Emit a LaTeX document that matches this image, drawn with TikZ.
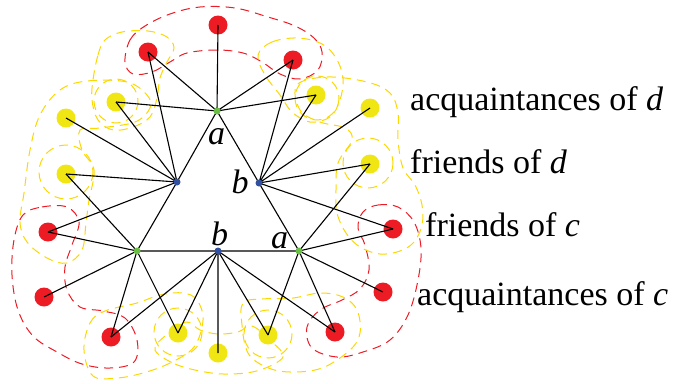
\documentclass[tikz,border=0pt]{standalone}
\usepackage{fontspec}
\setmainfont{Liberation Serif}
\definecolor{dotred}{RGB}{237,28,36}
\definecolor{dotyellow}{RGB}{240,230,20}
\definecolor{dashyellow}{RGB}{252,216,0}
\definecolor{vgreen}{RGB}{106,189,69}
\definecolor{vblue}{RGB}{50,80,160}
\tikzset{
  reddot/.style={circle,fill=dotred,inner sep=0pt,minimum size=19pt},
  yellowdot/.style={circle,fill=dotyellow,inner sep=0pt,minimum size=19pt},
  greendot/.style={circle,fill=vgreen,inner sep=0pt,minimum size=7pt},
  bluedot/.style={circle,fill=vblue,inner sep=0pt,minimum size=7pt},
  edge/.style={black,line width=1.1pt},
  reddash/.style={dotred,line width=1pt,dash pattern=on 9pt off 6pt},
  yellowdash/.style={dashyellow,line width=1pt,dash pattern=on 9pt off 6pt},
  lbl/.style={inner sep=0pt,font=\fontsize{34}{40}\selectfont},
  legend/.style={inner sep=0pt,font=\fontsize{34}{40}\selectfont}
}
\begin{document}
\begin{tikzpicture}[x=1pt,y=1pt,yscale=-1]
\useasboundingbox (0,0) rectangle (674,383);
% red regions
\draw[reddash] plot[smooth cycle,tension=0.6] coordinates {(125,62) (130,40) (145,26) (170,14) (200,7) (235,8) (268,17) (295,26) (314,38) (322,52) (318,70) (300,79) (280,74) (262,62) (243,53) (217,50) (187,53) (170,62) (152,72) (133,74)};
\draw[reddash] plot[smooth cycle,tension=0.6] coordinates {(23,215) (42,207) (67,207) (79,222) (72,245) (65,267) (67,290) (80,307) (103,311) (125,318) (137,340) (134,362) (110,368) (82,364) (57,352) (33,336) (18,310) (12,275) (14,240)};
\draw[reddash] plot[smooth cycle,tension=0.6] coordinates {(363,212) (378,205) (398,207) (414,222) (421,248) (418,280) (408,315) (390,340) (363,352) (337,357) (312,348) (307,327) (320,310) (342,300) (360,289) (369,270) (365,245) (358,228)};
% yellow regions
\draw[yellowdash] plot[smooth cycle,tension=0.6] coordinates {(147,95) (127,82) (87,81) (60,90) (40,115) (30,150) (24,193) (20,222) (27,242) (47,258) (67,263) (82,250) (86,223) (89,200) (94,170) (82,150) (80,130) (100,128) (135,122) (150,108)};
\draw[yellowdash] plot[smooth cycle,tension=0.6] coordinates {(297,85) (327,77) (367,82) (390,93) (398,113) (398,140) (403,168) (415,185) (422,205) (422,225) (414,242) (400,251) (380,254) (360,247) (346,233) (337,213) (336,190) (338,163) (352,140) (345,128) (320,122) (300,110)};
\draw[yellowdash] plot[smooth cycle,tension=0.6] coordinates {(93,80) (98,55) (105,40) (122,32) (148,31) (167,37) (174,48) (167,62) (160,78) (157,98) (150,117) (133,127) (113,130) (98,120) (92,100)};
\draw[yellowdash] plot[smooth cycle,tension=0.6] coordinates {(258,55) (272,42) (298,38) (322,44) (336,58) (343,78) (340,100) (330,117) (310,122) (292,112) (280,95) (265,75)};
\draw[yellowdash] plot[smooth cycle,tension=0.6] coordinates {(84,350) (90,323) (105,311) (137,303) (160,295) (183,293) (197,300) (203,320) (194,347) (170,363) (143,373) (117,378) (93,376)};
\draw[yellowdash] plot[smooth cycle,tension=0.6] coordinates {(243,303) (262,299) (293,298) (320,293) (343,297) (357,310) (360,333) (350,350) (322,368) (290,372) (266,367) (248,353) (242,325)};
\draw[yellowdash] plot[smooth cycle,tension=0.6] coordinates {(155,350) (175,364) (205,372) (232,374) (260,370) (283,357) (272,342) (252,326) (238,332) (218,334) (200,330) (186,322) (165,336)};
\draw[yellowdash] (116,101) circle (22);
\draw[yellowdash] (317,98) circle (22);
\draw[yellowdash] (66,172) circle (27);
\draw[yellowdash] (368,163) circle (25);
\draw[yellowdash] (178,332) circle (24);
\draw[yellowdash] (268,334) circle (24);
% outer dots
\node[reddot] (r1) at (218,25) {};
\node[reddot] (r2) at (148,52) {};
\node[reddot] (r3) at (293,60) {};
\node[yellowdot] (y1) at (116,102) {};
\node[yellowdot] (y2) at (316,95) {};
\node[yellowdot] (y3) at (66,118) {};
\node[yellowdot] (y4) at (370,108) {};
\node[yellowdot] (y5) at (66,174) {};
\node[yellowdot] (y6) at (370,164) {};
\node[reddot] (r4) at (48,232) {};
\node[reddot] (r5) at (393,229) {};
\node[reddot] (r6) at (44,297) {};
\node[reddot] (r7) at (383,292) {};
\node[reddot] (r8) at (111,337) {};
\node[reddot] (r9) at (335,332) {};
\node[yellowdot] (y7) at (178,333) {};
\node[yellowdot] (y8) at (268,335) {};
\node[yellowdot] (y9) at (218,353) {};
% inner vertices
\coordinate (ga) at (217,111);
\coordinate (bl) at (177,182);
\coordinate (br) at (259,183);
\coordinate (gl) at (137,251);
\coordinate (bb) at (218,251);
\coordinate (gr) at (299,251);
% edges
\draw[edge] (ga) -- (bl) -- (gl) -- (bb) -- (gr) -- (br) -- cycle;
\draw[edge] (ga) -- (r1.center) (ga) -- (r2.center) (ga) -- (r3.center) (ga) -- (y1.center) (ga) -- (y2.center);
\draw[edge] (bl) -- (y3.center) (bl) -- (y1.center) (bl) -- (r2.center) (bl) -- (y5.center) (bl) -- (r4.center);
\draw[edge] (br) -- (r3.center) (br) -- (y2.center) (br) -- (y4.center) (br) -- (y6.center) (br) -- (r5.center);
\draw[edge] (gl) -- (y5.center) (gl) -- (r4.center) (gl) -- (r6.center) (gl) -- (r8.center) (gl) -- (y7.center);
\draw[edge] (bb) -- (r8.center) (bb) -- (y7.center) (bb) -- (y9.center) (bb) -- (y8.center) (bb) -- (r9.center);
\draw[edge] (gr) -- (y6.center) (gr) -- (r5.center) (gr) -- (r7.center) (gr) -- (r9.center) (gr) -- (y8.center);
% vertex dots
\node[greendot] (ga dot) at (ga) {};
\node[bluedot] (bl dot) at (bl) {};
\node[bluedot] (br dot) at (br) {};
\node[greendot] (gl dot) at (gl) {};
\node[bluedot] (bb dot) at (bb) {};
\node[greendot] (gr dot) at (gr) {};
% labels
\node[lbl,anchor=base] (la top) at (216.5,144) {\textit{a}};
\node[lbl,anchor=base] (lb right) at (240,193) {\textit{b}};
\node[lbl,anchor=base] (lb bottom) at (219.5,245) {\textit{b}};
\node[lbl,anchor=base] (la bottom) at (279.5,248) {\textit{a}};
\node[legend,anchor=base west] (acq d) at (410,110) {acquaintances of \textit{d}};
\node[legend,anchor=base west] (fr d) at (410,173) {friends of \textit{d}};
\node[legend,anchor=base west] (fr c) at (425,236) {friends of \textit{c}};
\node[legend,anchor=base west] (acq c) at (417,305) {acquaintances of \textit{c}};
\end{tikzpicture}
\end{document}
